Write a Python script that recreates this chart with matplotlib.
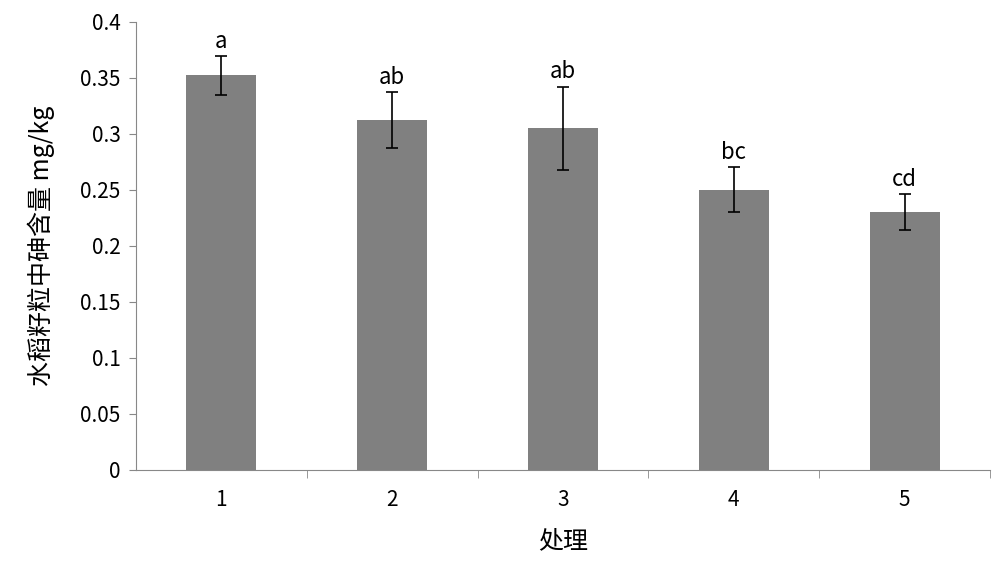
import matplotlib
matplotlib.use("Agg")
import matplotlib.pyplot as plt
plt.rcParams['font.family'] = ['Noto Sans CJK SC', 'DejaVu Sans']

categories = ['1', '2', '3', '4', '5']
values = [0.352, 0.312, 0.305, 0.250, 0.230]
errors = [0.017, 0.025, 0.037, 0.020, 0.016]
letters = ['a', 'ab', 'ab', 'bc', 'cd']

fig = plt.figure(figsize=(10, 5.71), dpi=100)
ax = fig.add_axes([0.136, 0.177, 0.854, 0.785])
x = list(range(1, 6))
ax.bar(x, values, width=0.41, color='#808080', yerr=errors,
       error_kw=dict(ecolor='black', elinewidth=1.2, capsize=4, capthick=1.2))
for xi, v, e, l in zip(x, values, errors, letters):
    ax.text(xi, v + e + 0.003, l, ha='center', va='bottom', fontsize=16)
ax.set_xlim(0.5, 5.5)
ax.set_ylim(0, 0.4)
ax.set_yticks([0, 0.05, 0.1, 0.15, 0.2, 0.25, 0.3, 0.35, 0.4])
ax.set_yticklabels(['0', '0.05', '0.1', '0.15', '0.2', '0.25', '0.3', '0.35', '0.4'])
ax.set_xticks(x)
ax.set_xticklabels(categories)
ax.set_xticks([1.5, 2.5, 3.5, 4.5, 5.5], minor=True)
ax.tick_params(axis='x', which='major', length=0, labelsize=15, pad=14)
ax.tick_params(axis='x', which='minor', length=6, color='#888888', direction='out')
ax.tick_params(axis='y', labelsize=15, length=5, color='#888888', direction='out', pad=6)
for s in ['top', 'right']:
    ax.spines[s].set_visible(False)
for s in ['left', 'bottom']:
    ax.spines[s].set_color('#888888')
ax.set_xlabel('处理', fontsize=18, labelpad=12)
ax.set_ylabel('水稻籽粒中砷含量 mg/kg', fontsize=18, labelpad=18)
fig.savefig('out.png', dpi=100)
